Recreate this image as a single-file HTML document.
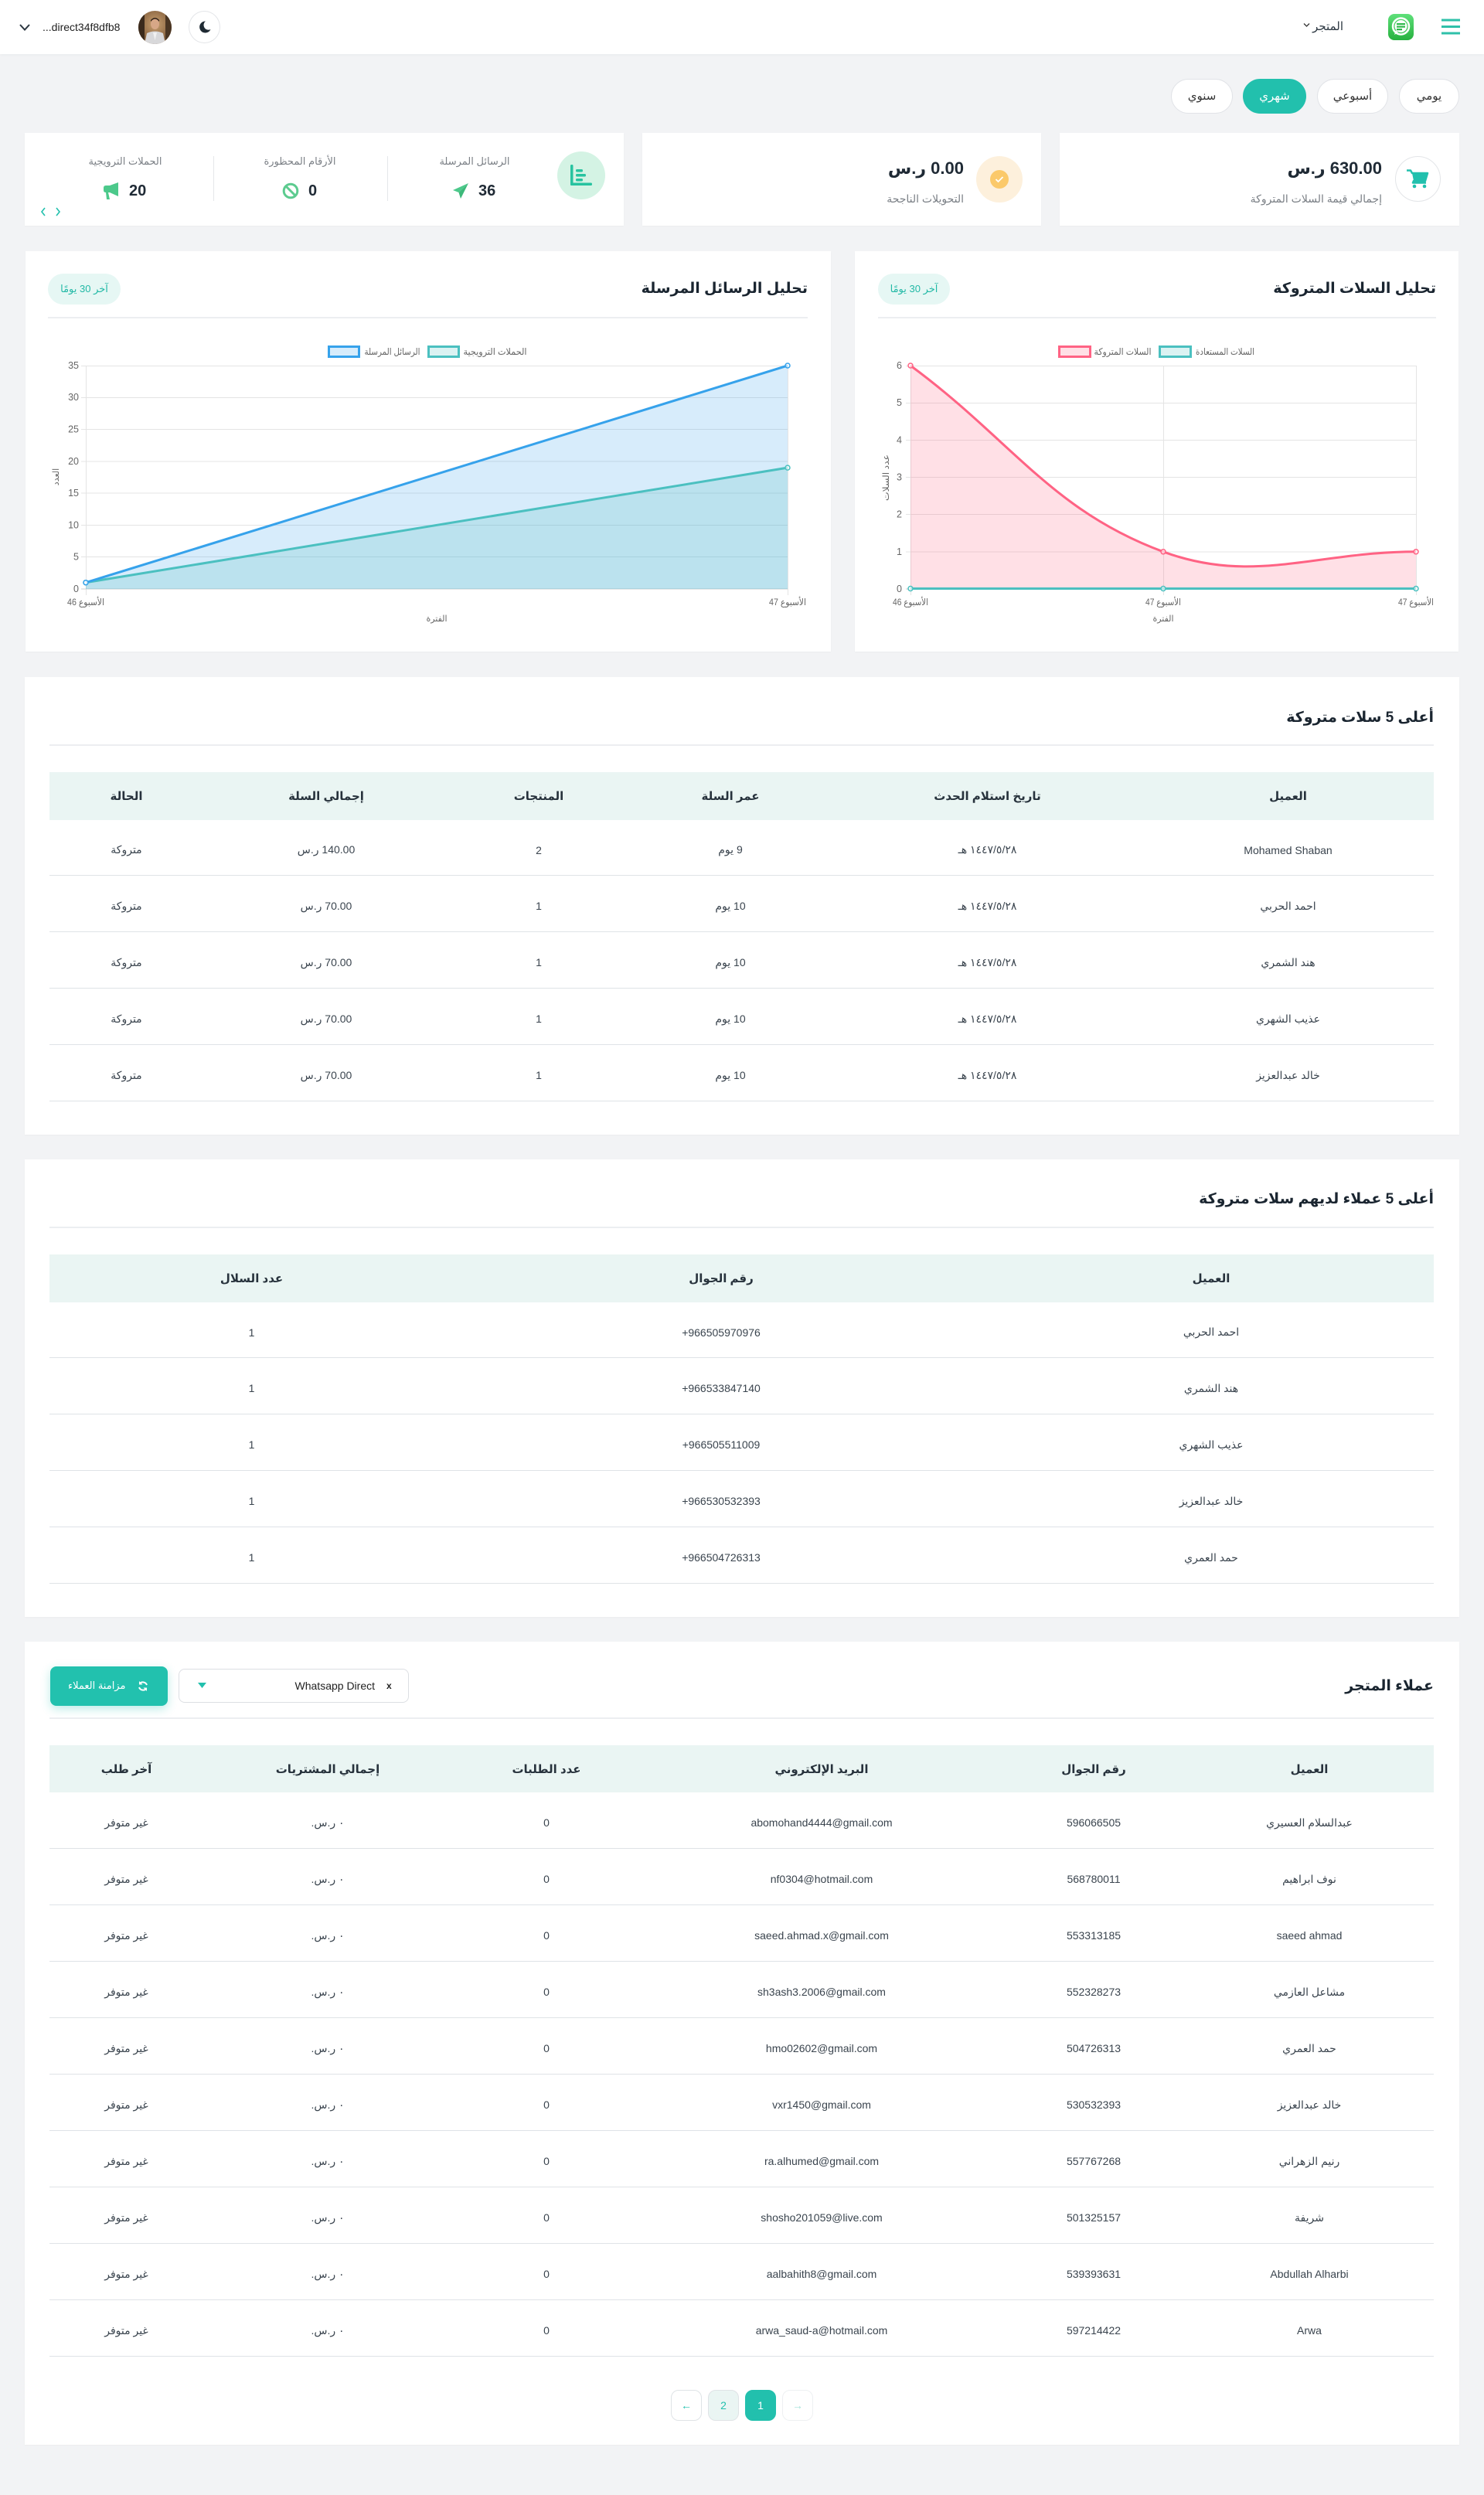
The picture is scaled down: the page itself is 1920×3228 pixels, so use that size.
<!DOCTYPE html>
<html lang="ar" dir="rtl">
<head>
<meta charset="utf-8">
<title>Dashboard</title>
<style>
*{margin:0;padding:0;box-sizing:border-box}
html,body{width:1920px;height:3228px;overflow:hidden}
body{position:relative;background:#f2f3f5;font-family:"Liberation Sans","DejaVu Sans",sans-serif;color:#2b3640}
.a{position:absolute}
.card{position:absolute;background:#fff;box-shadow:0 1px 2px rgba(0,0,0,.03)}
.ctr{position:absolute;text-align:center;white-space:nowrap}
.pill{position:absolute;top:102px;height:45px;border:1px solid #e1e3e7;border-radius:23px;background:#fff;font-size:15px;line-height:43px;text-align:center;color:#333}
.pill.on{background:#22c0ad;border-color:#22c0ad;color:#fff}
.title{position:absolute;font-size:19px;font-weight:bold;color:#1a2530;white-space:nowrap;line-height:24px}
.hr{position:absolute;height:2px;background:#eceef1}
.badge{position:absolute;top:354px;width:94px;height:40px;border-radius:20px;background:#e6f7f4;color:#22b9a6;font-size:13px;line-height:40px;text-align:center;white-space:nowrap}
.tbl{position:absolute;left:64px;width:1791px;font-size:14px;color:#3a444e}
.th{display:flex;height:62px;background:#eaf5f3;align-items:center;font-weight:bold;font-size:15px;color:#27323c}
.tr{display:flex;height:73px;border-bottom:1px solid #dfe3e7;align-items:center;padding-top:6px}
.tbl .th div,.tbl .tr div{text-align:center;white-space:nowrap}
.lbl{font-size:13px;color:#7a7f85;line-height:18px}
.num{font-size:20px;font-weight:bold;color:#1f2a35}
.grp{position:absolute;display:flex;align-items:center;gap:12px;height:26px}
.pg{position:absolute;top:3092px;width:40px;height:40px;border-radius:10px;border:1px solid #dfe3e6;background:#fff;text-align:center;line-height:38px;font-size:14px;color:#22c0ad}
</style>
</head>
<body>

<!-- HEADER -->
<div class="a" style="left:0;top:0;width:1920px;height:70px;background:#fff;box-shadow:0 1px 4px rgba(0,0,0,.04)"></div>
<svg class="a" style="left:1864px;top:24px" width="26" height="21" viewBox="0 0 26 21"><g stroke="#2fc0a9" stroke-width="3"><line x1="1" y1="2" x2="25" y2="2"/><line x1="1" y1="10.5" x2="25" y2="10.5"/><line x1="1" y1="19" x2="25" y2="19"/></g></svg>
<svg class="a" style="left:1796px;top:18px" width="33" height="34" viewBox="0 0 33 34">
<defs><linearGradient id="wg" x1="0" y1="0" x2="0" y2="1"><stop offset="0" stop-color="#5fe07a"/><stop offset="1" stop-color="#27b13f"/></linearGradient></defs>
<rect x="0" y="0" width="33" height="34" rx="8" fill="url(#wg)"/>
<circle cx="16.5" cy="16" r="10.5" fill="none" stroke="#fff" stroke-width="2.5"/>
<path d="M8 27 L10 21 L13 24 Z" fill="#fff"/>
<circle cx="16.5" cy="16" r="8" fill="#fff"/>
<rect x="11" y="12" width="11" height="2.2" fill="#2fb84b"/><rect x="11" y="15.5" width="11" height="2.2" fill="#2fb84b"/><rect x="11" y="19" width="7" height="2.2" fill="#2fb84b"/>
</svg>
<div class="a" style="right:182px;top:26px;font-size:15px;line-height:18px;color:#2b3640;white-space:nowrap">المتجر</div>
<svg class="a" style="left:1686px;top:29px" width="9" height="7" viewBox="0 0 9 7"><path d="M1 1.5 L4.5 5 L8 1.5" fill="none" stroke="#333" stroke-width="1.3"/></svg>

<svg class="a" style="left:24px;top:30px" width="16" height="11" viewBox="0 0 16 11"><path d="M2 2 L8 8.5 L14 2" fill="none" stroke="#2b3640" stroke-width="2"/></svg>
<div class="a" dir="ltr" style="left:55px;top:26px;font-size:14px;line-height:18px;color:#222;white-space:nowrap">...direct34f8dfb8</div>
<svg class="a" style="left:179px;top:14px" width="43" height="43" viewBox="0 0 43 43">
<defs><clipPath id="av"><circle cx="21.5" cy="21.5" r="21.5"/></clipPath>
<radialGradient id="avg" cx="0.5" cy="0.4" r="0.7"><stop offset="0" stop-color="#c9a070"/><stop offset="1" stop-color="#6d4a2c"/></radialGradient></defs>
<g clip-path="url(#av)"><rect width="43" height="43" fill="url(#avg)"/>
<rect x="0" y="0" width="8" height="43" fill="#3a2a1c"/><rect x="35" y="0" width="8" height="43" fill="#4a3522"/>
<path d="M8 43 L11 29 Q21.5 24 32 29 L35 43 Z" fill="#d8d8da"/>
<path d="M19 28 L21.5 38 L24 28 Z" fill="#f1f1f1"/>
<ellipse cx="21.5" cy="17" rx="5.5" ry="7" fill="#d7a787"/>
<path d="M16 14 Q21.5 7 27 14 L27 12 Q21.5 6 16 12 Z" fill="#2a1d14"/></g>
</svg>
<div class="a" style="left:244px;top:14px;width:41px;height:42px;border:1px solid #e3e5e8;border-radius:50%;background:#fff"></div>
<svg class="a" style="left:256px;top:26px" width="18" height="18" viewBox="0 0 18 18"><path d="M10 1.5 A7.5 7.5 0 1 0 16.5 12 A6.2 6.2 0 0 1 10 1.5 Z" fill="#1f2a33"/></svg>

<!-- PERIOD PILLS -->
<div class="pill" style="left:1810px;width:78px">يومي</div>
<div class="pill" style="left:1704px;width:92px">أسبوعي</div>
<div class="pill on" style="left:1608px;width:82px">شهري</div>
<div class="pill" style="left:1515px;width:80px">سنوي</div>

<!-- STATS CARDS -->
<div class="card" style="left:1371px;top:172px;width:517px;height:120px"></div>
<div class="a" style="left:1805px;top:202px;width:59px;height:59px;border:1px solid #e3e5e8;border-radius:50%;background:#fff"></div>
<svg class="a" style="left:1820px;top:219px" width="29" height="25" viewBox="0 0 29 25"><path d="M0 1.5 L5 1.5 L7 5 L27 5 L24 15 L9 15 L8 17.5 L25 17.5" fill="none" stroke="#22c0ad" stroke-width="2.5" stroke-linejoin="round"/><path d="M7 5 L27 5 L24 15 L9 15 Z" fill="#22c0ad"/><circle cx="10" cy="22" r="2.3" fill="#22c0ad"/><circle cx="23" cy="22" r="2.3" fill="#22c0ad"/></svg>
<div class="a" style="right:132px;top:204px;font-size:22px;font-weight:bold;color:#1f2a35;white-space:nowrap;line-height:28px">630.00 ر.س</div>
<div class="a lbl" style="right:132px;top:248px;font-size:14px;white-space:nowrap">إجمالي قيمة السلات المتروكة</div>

<div class="card" style="left:831px;top:172px;width:516px;height:120px"></div>
<div class="a" style="left:1263px;top:202px;width:60px;height:60px;border-radius:50%;background:#fdf0dc"></div>
<div class="a" style="left:1281px;top:220px;width:24px;height:24px;border-radius:50%;background:#fbc96a"></div>
<svg class="a" style="left:1286px;top:226px" width="14" height="12" viewBox="0 0 14 12"><path d="M2.5 6 L5.5 9 L11.5 3" fill="none" stroke="#fff" stroke-width="1.8"/></svg>
<div class="a" style="right:673px;top:204px;font-size:22px;font-weight:bold;color:#1f2a35;white-space:nowrap;line-height:28px">0.00 ر.س</div>
<div class="a lbl" style="right:673px;top:248px;font-size:14px;white-space:nowrap">التحويلات الناجحة</div>

<div class="card" style="left:32px;top:172px;width:775px;height:120px"></div>
<div class="a" style="left:721px;top:196px;width:62px;height:62px;border-radius:50%;background:#d4f3e4"></div>
<svg class="a" style="left:737px;top:212px" width="30" height="30" viewBox="0 0 30 30"><g fill="#27c3a0"><rect x="1" y="1" width="3.5" height="27" rx="1.5"/><rect x="1" y="24.5" width="28" height="3.5" rx="1.5"/><rect x="8" y="7" width="9" height="3.5" rx="1.5"/><rect x="8" y="13" width="13" height="3.5" rx="1.5"/><rect x="8" y="19" width="9" height="3.5" rx="1.5"/></g></svg>
<div class="a" style="left:501px;top:202px;width:1px;height:58px;background:#e5e7ea"></div>
<div class="a" style="left:276px;top:202px;width:1px;height:58px;background:#e5e7ea"></div>

<div class="ctr lbl" style="left:514px;width:200px;top:200px">الرسائل المرسلة</div>
<div class="grp" style="left:585px;top:234px"><span class="num">36</span><svg width="22" height="22" viewBox="0 0 22 22"><path d="M21 1 L1 10 L8.5 13 Z" fill="#4cc98b"/><path d="M21 1 L8.5 13 L11 21 Z" fill="#3db97a"/></svg></div>
<div class="ctr lbl" style="left:288px;width:200px;top:200px">الأرقام المحظورة</div>
<div class="grp" style="left:365px;top:234px"><span class="num">0</span><svg width="22" height="22" viewBox="0 0 22 22"><circle cx="11" cy="11" r="8.8" fill="none" stroke="#5ccb8f" stroke-width="3"/><line x1="5" y1="5" x2="17" y2="17" stroke="#5ccb8f" stroke-width="3"/></svg></div>
<div class="ctr lbl" style="left:62px;width:200px;top:200px">الحملات الترويجية</div>
<div class="grp" style="left:133px;top:234px"><span class="num">20</span><svg width="22" height="24" viewBox="0 0 22 24"><path d="M20 1 L20 19 L9 14 L4 14 Q1 14 1 11 L1 8 Q1 5 4 5 L9 5 Z" fill="#4cc98b"/><path d="M4 14 L7 14 L9 23 L5 23 Z" fill="#4cc98b"/></svg></div>
<svg class="a" style="left:52px;top:268px" width="28" height="12" viewBox="0 0 28 12"><path d="M6 1 L2 6 L6 11" fill="none" stroke="#22c0ad" stroke-width="1.6"/><path d="M21 1 L25 6 L21 11" fill="none" stroke="#22c0ad" stroke-width="1.6"/></svg>

<!-- CHART CARDS -->
<div class="card" style="left:33px;top:325px;width:1042px;height:518px"></div>
<div class="title" style="right:875px;top:362px">تحليل الرسائل المرسلة</div>
<div class="badge" style="left:62px">آخر 30 يومًا</div>
<div class="hr" style="left:62px;top:410px;width:983px"></div>

<svg class="a" style="left:33px;top:325px;direction:ltr" width="1042" height="518" viewBox="33 325 1042 518" font-family="Liberation Sans, DejaVu Sans, sans-serif">
<g stroke="#e4e4e4" stroke-width="1">
<line x1="105" y1="473.5" x2="1019" y2="473.5"/><line x1="105" y1="514.5" x2="1019" y2="514.5"/><line x1="105" y1="555.5" x2="1019" y2="555.5"/><line x1="105" y1="597" x2="1019" y2="597"/><line x1="105" y1="638" x2="1019" y2="638"/><line x1="105" y1="679.5" x2="1019" y2="679.5"/><line x1="105" y1="720.5" x2="1019" y2="720.5"/>
<line x1="111.5" y1="473" x2="111.5" y2="770"/><line x1="1019.5" y1="473" x2="1019.5" y2="770"/>
</g>
<line x1="105" y1="762" x2="1019" y2="762" stroke="#d0d0d0"/>
<path d="M111,753.7 L1019,473 L1019,762 L111,762 Z" fill="rgba(54,162,235,0.2)"/>
<path d="M111,753.7 L1019,605.1 L1019,762 L111,762 Z" fill="rgba(75,192,192,0.2)"/>
<path d="M111,753.7 L1019,605.1" stroke="#4bc0c0" stroke-width="3" fill="none"/>
<path d="M111,753.7 L1019,473" stroke="#36a2eb" stroke-width="3" fill="none"/>
<g fill="rgba(255,255,255,0.6)" stroke-width="1.5"><circle cx="111" cy="753.7" r="3" stroke="#4bc0c0"/><circle cx="1019" cy="605.1" r="3" stroke="#4bc0c0"/><circle cx="111" cy="753.7" r="3" stroke="#36a2eb"/><circle cx="1019" cy="473" r="3" stroke="#36a2eb"/></g>
<g font-size="12.5" fill="#666" text-anchor="end">
<text x="102" y="477">35</text><text x="102" y="518">30</text><text x="102" y="559.5">25</text><text x="102" y="601">20</text><text x="102" y="642">15</text><text x="102" y="683.5">10</text><text x="102" y="724.5">5</text><text x="102" y="766">0</text>
</g>
<g font-size="12" fill="#666" text-anchor="middle">
<text x="111" y="783" textLength="48" lengthAdjust="spacingAndGlyphs">الأسبوع 46</text><text x="1019" y="783" textLength="48" lengthAdjust="spacingAndGlyphs">الأسبوع 47</text>
<text x="565" y="804" font-size="11">الفترة</text>
<text transform="translate(76,617) rotate(-90)" font-size="11">العدد</text>
<text x="507.5" y="459" textLength="72" lengthAdjust="spacingAndGlyphs">الرسائل المرسلة</text><text x="640.5" y="459" textLength="82" lengthAdjust="spacingAndGlyphs">الحملات الترويجية</text>
</g>
<rect x="425.5" y="448.5" width="39" height="13" fill="rgba(54,162,235,0.2)" stroke="#36a2eb" stroke-width="3"/>
<rect x="554.5" y="448.5" width="39" height="13" fill="rgba(75,192,192,0.2)" stroke="#4bc0c0" stroke-width="3"/>
</svg>

<div class="card" style="left:1106px;top:325px;width:781px;height:518px"></div>
<div class="title" style="right:62px;top:362px">تحليل السلات المتروكة</div>
<div class="badge" style="left:1136px;width:93px">آخر 30 يومًا</div>
<div class="hr" style="left:1136px;top:410px;width:722px"></div>

<svg class="a" style="left:1106px;top:325px;direction:ltr" width="781" height="518" viewBox="1106 325 781 518" font-family="Liberation Sans, DejaVu Sans, sans-serif">
<g stroke="#e4e4e4" stroke-width="1">
<line x1="1172" y1="473.5" x2="1832" y2="473.5"/><line x1="1172" y1="521.5" x2="1832" y2="521.5"/><line x1="1172" y1="569.5" x2="1832" y2="569.5"/><line x1="1172" y1="617.5" x2="1832" y2="617.5"/><line x1="1172" y1="665.5" x2="1832" y2="665.5"/><line x1="1172" y1="714" x2="1832" y2="714"/>
<line x1="1178.5" y1="473" x2="1178.5" y2="770"/><line x1="1505.5" y1="473" x2="1505.5" y2="770"/><line x1="1832.5" y1="473" x2="1832.5" y2="770"/>
</g>
<line x1="1172" y1="762" x2="1832" y2="762" stroke="#d0d0d0"/>
<path d="M1178,473 C1308.8,569.3 1360.1,660.4 1505,713.8 C1621.7,756.8 1701.2,713.8 1832,713.8 L1832,762 L1178,762 Z" fill="rgba(255,99,132,0.2)"/>
<path d="M1178,473 C1308.8,569.3 1360.1,660.4 1505,713.8 C1621.7,756.8 1701.2,713.8 1832,713.8" fill="none" stroke="#ff6384" stroke-width="3"/>
<line x1="1178" y1="761.5" x2="1832" y2="761.5" stroke="#4bc0c0" stroke-width="3"/>
<g fill="rgba(255,255,255,0.6)" stroke-width="1.5">
<circle cx="1178" cy="473" r="3" stroke="#ff6384"/><circle cx="1505" cy="713.8" r="3" stroke="#ff6384"/><circle cx="1832" cy="713.8" r="3" stroke="#ff6384"/>
<circle cx="1178" cy="761.5" r="3" stroke="#4bc0c0"/><circle cx="1505" cy="761.5" r="3" stroke="#4bc0c0"/><circle cx="1832" cy="761.5" r="3" stroke="#4bc0c0"/>
</g>
<g font-size="12.5" fill="#666" text-anchor="end">
<text x="1167" y="477">6</text><text x="1167" y="525">5</text><text x="1167" y="573.5">4</text><text x="1167" y="621.5">3</text><text x="1167" y="669.5">2</text><text x="1167" y="718">1</text><text x="1167" y="766">0</text>
</g>
<g font-size="12" fill="#666" text-anchor="middle">
<text x="1178" y="783" textLength="46" lengthAdjust="spacingAndGlyphs">الأسبوع 46</text><text x="1505" y="783" textLength="46" lengthAdjust="spacingAndGlyphs">الأسبوع 47</text><text x="1832" y="783" textLength="46" lengthAdjust="spacingAndGlyphs">الأسبوع 47</text>
<text x="1505" y="804" font-size="11">الفترة</text>
<text transform="translate(1150,618) rotate(-90)" font-size="11" textLength="60" lengthAdjust="spacingAndGlyphs">عدد السلات</text>
<text x="1452.5" y="459" textLength="74" lengthAdjust="spacingAndGlyphs">السلات المتروكة</text><text x="1585" y="459" textLength="76" lengthAdjust="spacingAndGlyphs">السلات المستعادة</text>
</g>
<rect x="1370.5" y="448.5" width="40" height="13" fill="rgba(255,99,132,0.2)" stroke="#ff6384" stroke-width="3"/>
<rect x="1500.5" y="448.5" width="40" height="13" fill="rgba(75,192,192,0.2)" stroke="#4bc0c0" stroke-width="3"/>
</svg>

<!-- TABLE 1 -->
<div class="card" style="left:32px;top:876px;width:1856px;height:592px"></div>
<div class="title" style="right:65px;top:917px">أعلى 5 سلات متروكة</div>
<div class="hr" style="left:64px;top:963px;width:1791px"></div>
<div class="tbl" style="top:999px">
<div class="th"><div style="width:377px">العميل</div><div style="width:401px">تاريخ استلام الحدث</div><div style="width:264px">عمر السلة</div><div style="width:232px">المنتجات</div><div style="width:318px">إجمالي السلة</div><div style="width:199px">الحالة</div></div>
<div class="tr" style="height:72px"><div style="width:377px">Mohamed Shaban</div><div style="width:401px">١٤٤٧/٥/٢٨ هـ</div><div style="width:264px">9 يوم</div><div style="width:232px">2</div><div style="width:318px">140.00 ر.س</div><div style="width:199px">متروكة</div></div>
<div class="tr"><div style="width:377px">احمد الحربي</div><div style="width:401px">١٤٤٧/٥/٢٨ هـ</div><div style="width:264px">10 يوم</div><div style="width:232px">1</div><div style="width:318px">70.00 ر.س</div><div style="width:199px">متروكة</div></div>
<div class="tr"><div style="width:377px">هند الشمري</div><div style="width:401px">١٤٤٧/٥/٢٨ هـ</div><div style="width:264px">10 يوم</div><div style="width:232px">1</div><div style="width:318px">70.00 ر.س</div><div style="width:199px">متروكة</div></div>
<div class="tr"><div style="width:377px">عذيب الشهري</div><div style="width:401px">١٤٤٧/٥/٢٨ هـ</div><div style="width:264px">10 يوم</div><div style="width:232px">1</div><div style="width:318px">70.00 ر.س</div><div style="width:199px">متروكة</div></div>
<div class="tr"><div style="width:377px">خالد عبدالعزيز</div><div style="width:401px">١٤٤٧/٥/٢٨ هـ</div><div style="width:264px">10 يوم</div><div style="width:232px">1</div><div style="width:318px">70.00 ر.س</div><div style="width:199px">متروكة</div></div>
</div>

<!-- TABLE 2 -->
<div class="card" style="left:32px;top:1500px;width:1856px;height:592px"></div>
<div class="title" style="right:65px;top:1540px">أعلى 5 عملاء لديهم سلات متروكة</div>
<div class="hr" style="left:64px;top:1587px;width:1791px"></div>
<div class="tbl" style="top:1623px">
<div class="th"><div style="width:576px">العميل</div><div style="width:692px">رقم الجوال</div><div style="width:523px">عدد السلال</div></div>
<div class="tr" style="height:72px"><div style="width:576px">احمد الحربي</div><div style="width:692px" dir="ltr">+966505970976</div><div style="width:523px">1</div></div>
<div class="tr"><div style="width:576px">هند الشمري</div><div style="width:692px" dir="ltr">+966533847140</div><div style="width:523px">1</div></div>
<div class="tr"><div style="width:576px">عذيب الشهري</div><div style="width:692px" dir="ltr">+966505511009</div><div style="width:523px">1</div></div>
<div class="tr"><div style="width:576px">خالد عبدالعزيز</div><div style="width:692px" dir="ltr">+966530532393</div><div style="width:523px">1</div></div>
<div class="tr"><div style="width:576px">حمد العمري</div><div style="width:692px" dir="ltr">+966504726313</div><div style="width:523px">1</div></div>
</div>

<!-- TABLE 3 -->
<div class="card" style="left:32px;top:2124px;width:1856px;height:1039px"></div>
<div class="title" style="right:65px;top:2170px">عملاء المتجر</div>
<div class="a" style="left:65px;top:2156px;width:152px;height:51px;border-radius:8px;background:#22c1ae;box-shadow:0 4px 12px rgba(34,193,174,.3)"></div>
<div class="a" style="left:88px;top:2172px;font-size:13px;line-height:18px;color:#fff;white-space:nowrap">مزامنة العملاء</div>
<svg class="a" style="left:178px;top:2174px" width="14" height="15" viewBox="0 0 14 15"><path d="M12 6 A5.5 5.5 0 0 0 2.5 4.5 M2 9 A5.5 5.5 0 0 0 11.5 10.5" fill="none" stroke="#fff" stroke-width="2"/><path d="M2 1 L2 5.5 L6.5 5.5 Z" fill="#fff"/><path d="M12 14 L12 9.5 L7.5 9.5 Z" fill="#fff"/></svg>
<div class="a" style="left:231px;top:2159px;width:298px;height:44px;border:1px solid #dcdfe3;border-radius:8px;background:#fff"></div>
<div class="a" dir="ltr" style="right:1435px;top:2172px;font-size:14px;line-height:18px;color:#222;white-space:nowrap">Whatsapp Direct</div>
<div class="a" style="left:500px;top:2172px;font-size:12px;font-weight:bold;line-height:18px;color:#222">x</div>
<svg class="a" style="left:256px;top:2177px" width="11" height="8" viewBox="0 0 11 8"><path d="M0 0 L11 0 L5.5 7 Z" fill="#22c0ad"/></svg>
<div class="hr" style="left:64px;top:2222px;width:1791px"></div>
<div class="tbl" style="top:2258px">
<div class="th" style="height:61px"><div style="width:322px">العميل</div><div style="width:236px">رقم الجوال</div><div style="width:468px">البريد الإلكتروني</div><div style="width:244px">عدد الطلبات</div><div style="width:322px">إجمالي المشتريات</div><div style="width:199px">آخر طلب</div></div>
<div class="tr"><div style="width:322px">عبدالسلام العسيري</div><div style="width:236px">596066505</div><div style="width:468px">abomohand4444@gmail.com</div><div style="width:244px">0</div><div style="width:322px">٠ ر.س.</div><div style="width:199px">غير متوفر</div></div>
<div class="tr"><div style="width:322px">نوف ابراهيم</div><div style="width:236px">568780011</div><div style="width:468px">nf0304@hotmail.com</div><div style="width:244px">0</div><div style="width:322px">٠ ر.س.</div><div style="width:199px">غير متوفر</div></div>
<div class="tr"><div style="width:322px">saeed ahmad</div><div style="width:236px">553313185</div><div style="width:468px">saeed.ahmad.x@gmail.com</div><div style="width:244px">0</div><div style="width:322px">٠ ر.س.</div><div style="width:199px">غير متوفر</div></div>
<div class="tr"><div style="width:322px">مشاعل العازمي</div><div style="width:236px">552328273</div><div style="width:468px">sh3ash3.2006@gmail.com</div><div style="width:244px">0</div><div style="width:322px">٠ ر.س.</div><div style="width:199px">غير متوفر</div></div>
<div class="tr"><div style="width:322px">حمد العمري</div><div style="width:236px">504726313</div><div style="width:468px">hmo02602@gmail.com</div><div style="width:244px">0</div><div style="width:322px">٠ ر.س.</div><div style="width:199px">غير متوفر</div></div>
<div class="tr"><div style="width:322px">خالد عبدالعزيز</div><div style="width:236px">530532393</div><div style="width:468px">vxr1450@gmail.com</div><div style="width:244px">0</div><div style="width:322px">٠ ر.س.</div><div style="width:199px">غير متوفر</div></div>
<div class="tr"><div style="width:322px">رنيم الزهراني</div><div style="width:236px">557767268</div><div style="width:468px">ra.alhumed@gmail.com</div><div style="width:244px">0</div><div style="width:322px">٠ ر.س.</div><div style="width:199px">غير متوفر</div></div>
<div class="tr"><div style="width:322px">شريفة</div><div style="width:236px">501325157</div><div style="width:468px">shosho201059@live.com</div><div style="width:244px">0</div><div style="width:322px">٠ ر.س.</div><div style="width:199px">غير متوفر</div></div>
<div class="tr"><div style="width:322px">Abdullah Alharbi</div><div style="width:236px">539393631</div><div style="width:468px">aalbahith8@gmail.com</div><div style="width:244px">0</div><div style="width:322px">٠ ر.س.</div><div style="width:199px">غير متوفر</div></div>
<div class="tr"><div style="width:322px">Arwa</div><div style="width:236px">597214422</div><div style="width:468px">arwa_saud-a@hotmail.com</div><div style="width:244px">0</div><div style="width:322px">٠ ر.س.</div><div style="width:199px">غير متوفر</div></div>
</div>

<!-- PAGINATION -->
<div class="pg" style="left:868px">←</div>
<div class="pg" style="left:916px;background:#eaf5f3">2</div>
<div class="pg" style="left:964px;background:#22c0ad;border-color:#22c0ad;color:#fff">1</div>
<div class="pg" style="left:1012px;border-color:#eef0f2;color:#a6e3da">→</div>

</body>
</html>
